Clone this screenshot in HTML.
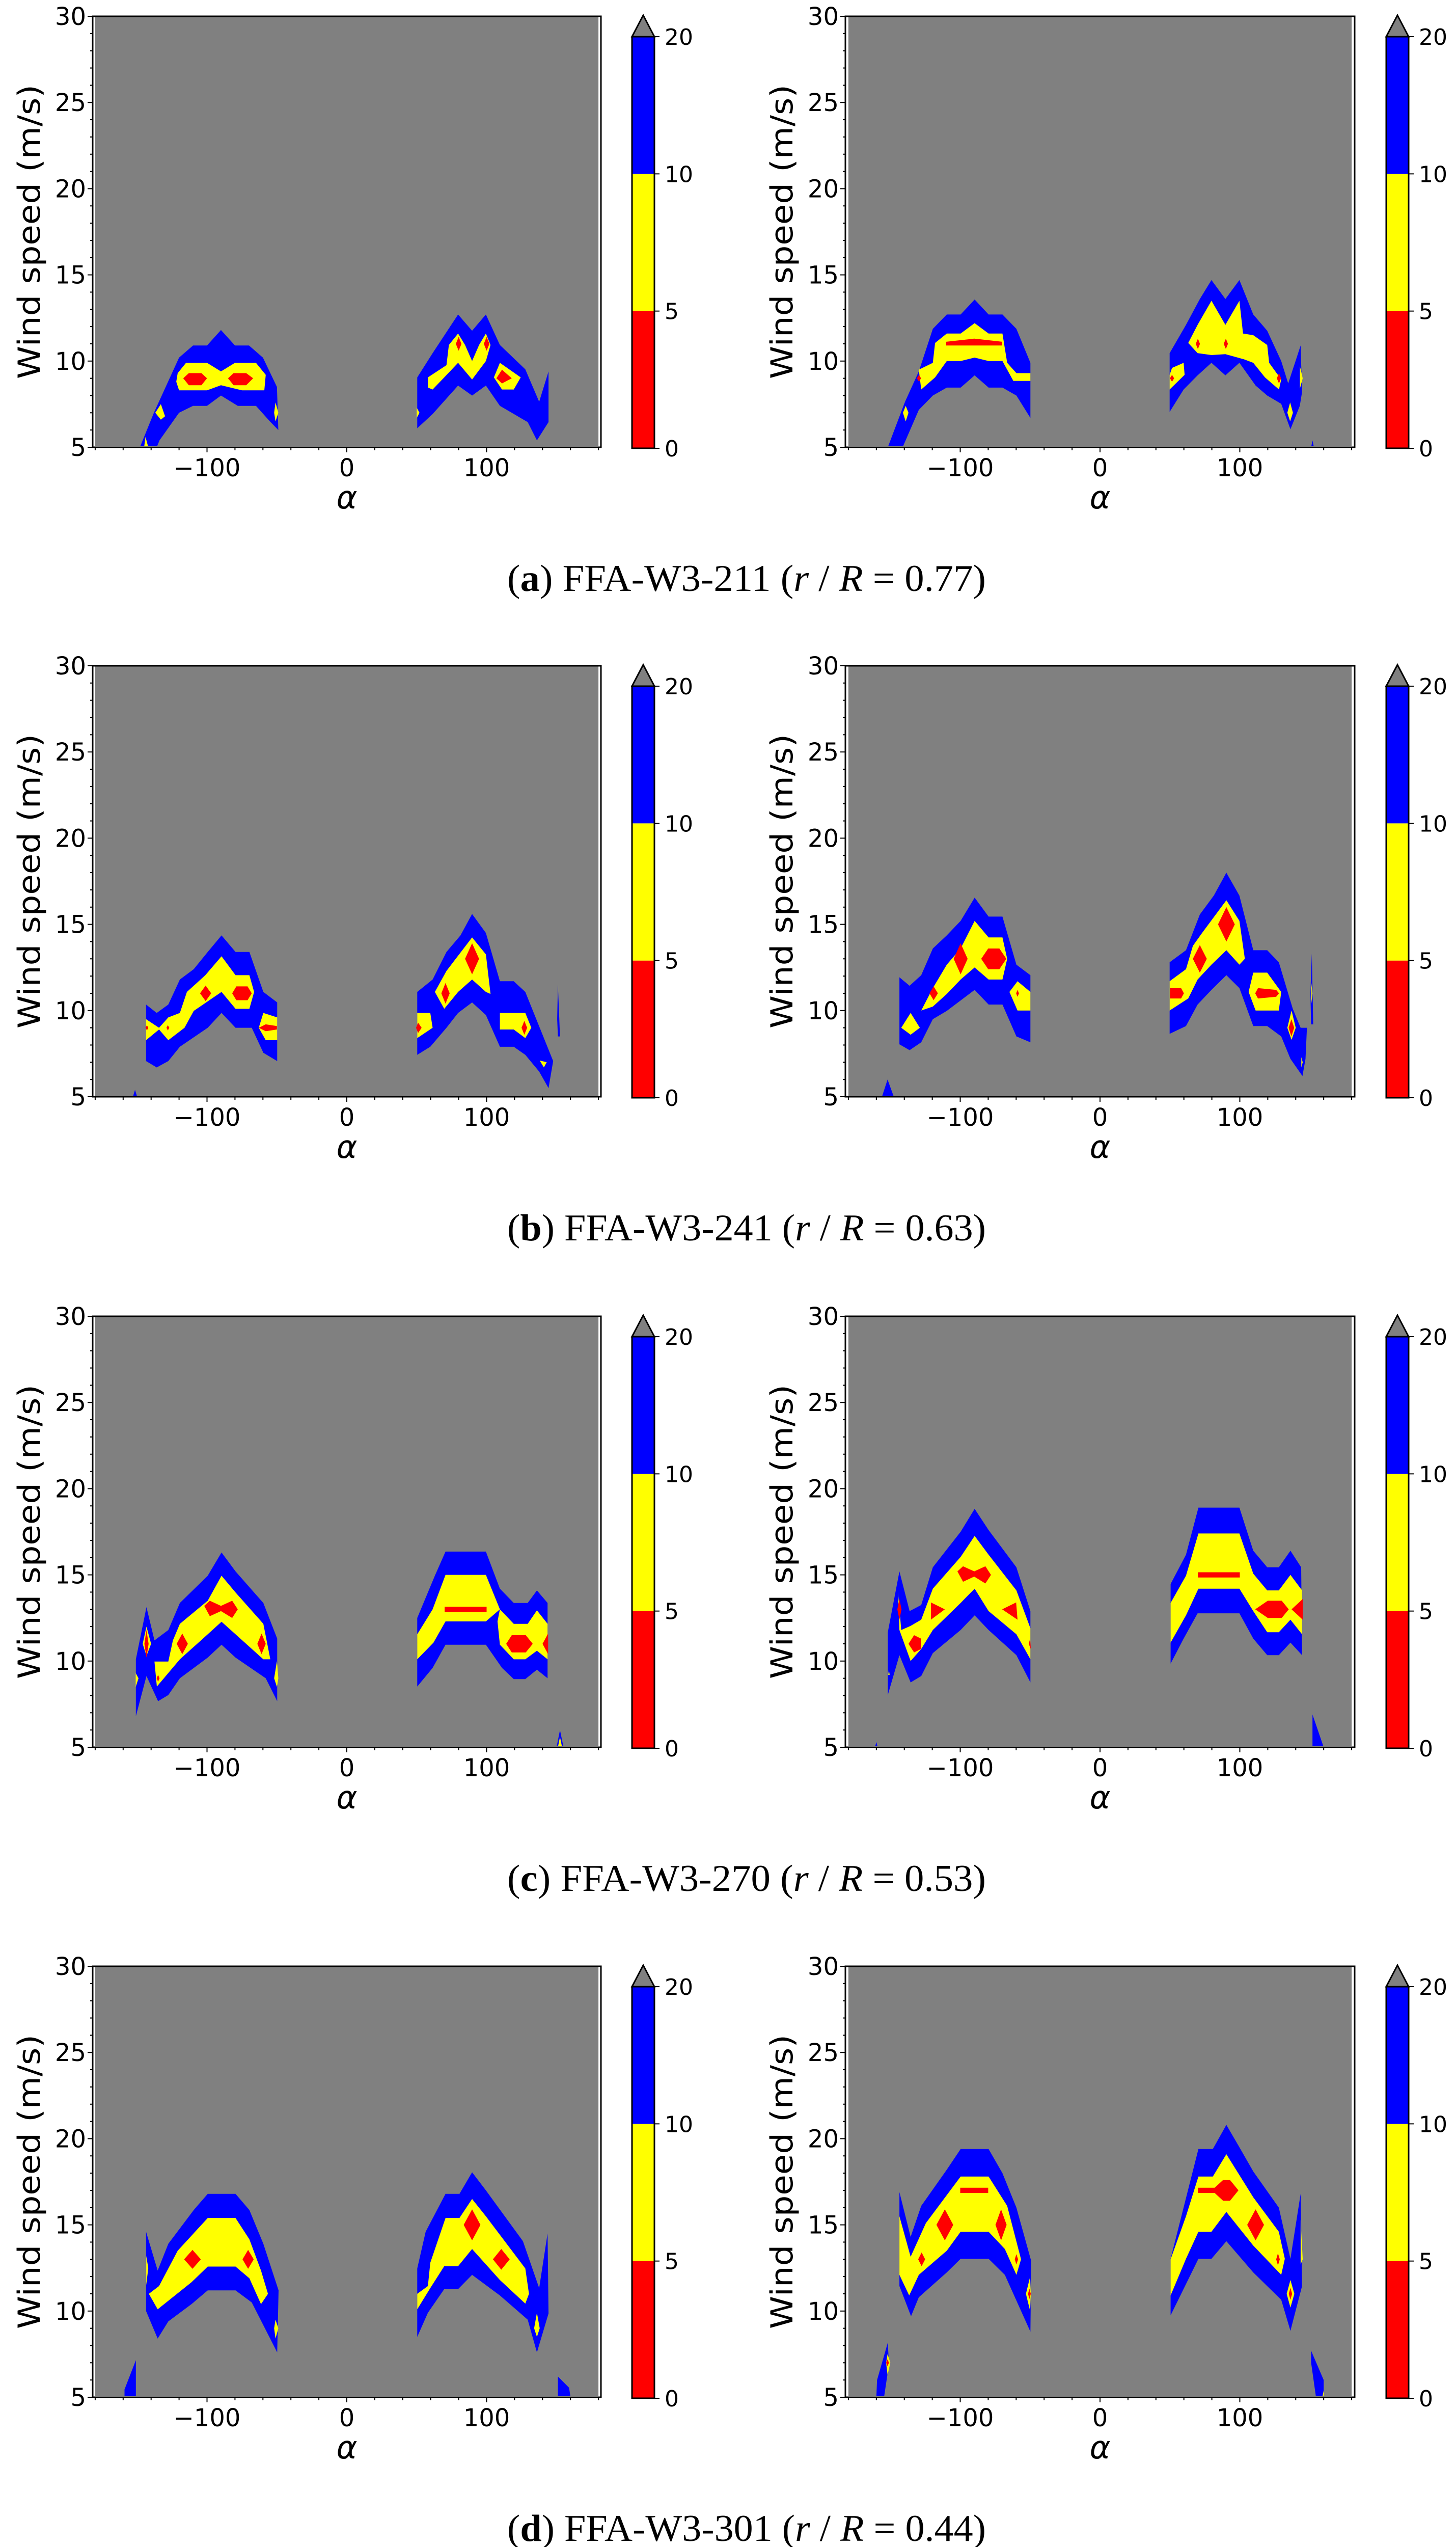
<!DOCTYPE html>
<html><head><meta charset="utf-8">
<style>
html,body{margin:0;padding:0;background:#fff;overflow:hidden;height:5030px;}
svg{display:block;}
</style></head>
<body>
<svg id="fig" xmlns="http://www.w3.org/2000/svg" width="2859" height="5030" viewBox="0 0 2859 5030"></svg>
<script>
// ---- chart data (alpha in degrees, wind speed in m/s) ----
const xTickValues = [-100, 0, 100];
const xTickLabels = ["\u2212100", "0", "100"];
const yTickValues = [5, 10, 15, 20, 25, 30];
const yTickLabels = ["5", "10", "15", "20", "25", "30"];
const cbarLevels = [0, 5, 10, 20];
const cbarLabels = ["0", "5", "10", "20"];
const cbarColors = ["#ff0000", "#ffff00", "#0000ff"];
const captionIds = ["a", "b", "c", "d"];
const captionAirfoils = ["FFA-W3-211", "FFA-W3-241", "FFA-W3-270", "FFA-W3-301"];
const captionRatios = ["0.77", "0.63", "0.53", "0.44"];

// Row a, left
const aL_blue = [
 [[-148,5],[-138,7],[-120,10.2],[-110,10.9],[-100,10.9],[-90,11.8],[-80,10.9],[-70,10.9],[-60,10.2],[-50,8.5],[-49,6],[-55,6.5],[-65,7.4],[-78,7.4],[-90,8],[-100,7.4],[-110,7.4],[-120,7],[-134,5.4],[-136,5]],
 [[50.4,9.05],[61.4,10.46],[79.6,12.7],[89.6,11.76],[99.5,12.7],[109.5,10.93],[127.7,9.52],[137.6,7.64],[144.3,9.4],[144.3,6.46],[136,5.4],[129.4,6.46],[109.5,7.4],[99.5,8.58],[89.6,8.0],[79.6,8.58],[61.4,6.93],[50.4,6.1]]
];
const aL_yellow = [
 [[-122,8.8],[-121,9.3],[-115,9.9],[-100,9.9],[-90,9.4],[-80,9.9],[-65,9.9],[-58,9.2],[-59,8.3],[-75,8.3],[-90,8.6],[-100,8.3],[-120,8.3]],
 [[-137,7],[-133,7.5],[-130,6.8],[-133,6.6]],
 [[-51,7.6],[-49,7],[-51,6.5],[-52,7]],
 [[-145,5],[-144,5.6],[-142,5]],
 [[58,8.46],[58,9.05],[71.3,9.76],[73,10.93],[79.6,11.6],[84.6,10.93],[89.6,10],[94.6,10.93],[99.5,11.6],[102.8,10.93],[99.5,10],[89.6,8.93],[79.6,9.9],[69.7,9.05],[61.4,8.35]],
 [[105.2,9.05],[109.5,9.9],[124.4,9.05],[119.4,8.35],[111,8.35]],
 [[50,7.3],[52,7],[50,6.7]]
];
const aL_red = [
 [[-117,9],[-113,9.3],[-104,9.3],[-100,9],[-104,8.6],[-113,8.6]],
 [[-85,9],[-81,9.3],[-72,9.3],[-67,9],[-72,8.6],[-81,8.6]],
 [[78,11],[80,11.4],[82,11],[80,10.6]],
 [[98,11],[100,11.4],[102,11],[100,10.6]],
 [[107,9],[111,9.5],[118,9],[111,8.7]]
];
// Row a, right
const aR_blue = [
 [[-151.8,5],[-139.5,7.64],[-129.6,9.4],[-119.6,11.87],[-109.6,12.7],[-99.7,12.7],[-89.7,13.57],[-79.7,12.7],[-69.8,12.7],[-59.8,11.87],[-49.8,9.9],[-49.8,6.7],[-59.8,8.0],[-69.8,8.46],[-79.7,8.46],[-89.7,9.17],[-99.7,8.46],[-109.6,8.46],[-119.6,8.0],[-129.6,7.17],[-141.2,5]],
 [[49.8,7.05],[49.8,10.46],[61.5,12.1],[71.4,13.6],[79.7,14.7],[89.7,13.6],[99.7,14.7],[109.6,12.7],[119.6,11.76],[129.6,10],[134.6,8.7],[143.5,10.9],[144.5,8.2],[142.9,7.4],[136.2,6.04],[129.6,7.52],[119.6,8.0],[111.3,8.58],[99.7,9.9],[89.7,9.17],[79.7,9.9],[69.8,9.17],[59.8,8.35]],
 [[151,5],[152,5.4],[153,5]]
];
const aR_yellow = [
 [[-129.6,9.5],[-119.6,9.9],[-118,11.05],[-109.6,11.6],[-99.7,11.6],[-89.7,12.2],[-79.7,11.6],[-69.8,11.6],[-66.4,9.9],[-59.8,9.3],[-49.8,9.3],[-49.8,8.85],[-62,8.85],[-69.8,10],[-79.7,10],[-89.7,10.2],[-99.7,10],[-109.6,10],[-118,9.05],[-127.9,8.35]],
 [[-139,7.4],[-137,7],[-139,6.5],[-141,7]],
 [[63.1,11.05],[69.8,12.1],[79.7,13.5],[89.7,12.1],[99.7,13.5],[102.3,11.6],[109.6,11.5],[119.6,10.93],[121,9.9],[129.6,8.93],[128,8.35],[118,9.05],[109.6,9.9],[103,10.1],[89.7,10.4],[79.7,10.35],[69.8,10.46]],
 [[51.5,9.6],[59.8,9.9],[60.5,9.2],[49.8,8.35],[49.8,9.2]],
 [[136,7.6],[138,7],[136,6.5],[134,7]],
 [[143,9.7],[145,9],[143,8.4]]
];
const aR_red = [
 [[-110,11.12],[-90,11.3],[-70,11.12],[-70,10.9],[-90,10.9],[-110,10.9]],
 [[-131,9],[-129.5,9.2],[-128,9],[-129.5,8.8]],
 [[68.5,11],[70,11.3],[71.5,11],[70,10.7]],
 [[88.5,11],[90,11.3],[91.5,11],[90,10.7]],
 [[126.5,9],[128,9.3],[129.5,9],[128,8.7]],
 [[50,9],[51.5,9.2],[53,9],[51.5,8.8]]
];
// Row b, left
const bL_blue = [
 [[-143.6,10.35],[-136,9.86],[-127.7,10.35],[-119.4,11.8],[-109.5,12.4],[-99.5,13.4],[-89.6,14.36],[-79.6,13.4],[-69.7,13.4],[-59.7,11.08],[-49.8,10.47],[-49.8,7.07],[-59.7,7.55],[-68,9.0],[-79.6,9.0],[-89.6,9.86],[-99.5,9.0],[-119.4,7.9],[-127.7,7.07],[-136,6.7],[-143.6,7.07]],
 [[-153,5],[-151.5,5.4],[-150,5]],
 [[50.4,11.08],[61.4,11.8],[71.3,13.4],[81.3,14.36],[89.6,15.6],[99.5,14.5],[109.5,11.7],[119.4,11.7],[127.7,11.08],[147.6,7.07],[144.3,5.5],[137.6,6.46],[127.7,7.43],[119.4,7.9],[109.5,7.9],[99.5,9.74],[89.6,10.47],[79.6,9.86],[71.3,9.0],[59.7,7.9],[50.4,7.43]],
 [[151,11.5],[152.5,8.5],[151,8.5],[150.5,9.5]]
];
const bL_yellow = [
 [[-143.6,9.5],[-134.3,9.0],[-127.7,9.6],[-119.4,9.86],[-114.4,11.08],[-101.2,12.05],[-89.6,13.15],[-79.6,12.05],[-69.7,12.05],[-66.3,11.08],[-69.7,10.1],[-79.6,10.1],[-89.6,11.08],[-109.5,9.98],[-116.1,9.0],[-127.7,8.28],[-134.3,8.9],[-143.6,8.28]],
 [[-63,9],[-59.7,9.86],[-49.8,9.6],[-49.8,8.28],[-58,8.28]],
 [[63,11.08],[71.3,12.3],[89.6,14.24],[99.5,13.26],[102.8,10.96],[99.5,11.08],[89.6,11.8],[79.6,11.08],[69.7,10.1]],
 [[109.5,9.86],[127.7,9.86],[132,9.0],[127.7,8.4],[119.4,8.9],[109.5,8.9]],
 [[50.4,9.86],[59.7,9.86],[61.4,9.0],[50.4,8.4]],
 [[138,7.1],[143,7],[141,6.7]]
];
const bL_red = [
 [[-105,11],[-101,11.45],[-97,11],[-101,10.55]],
 [[-82,11],[-79,11.4],[-71,11.4],[-68,11],[-71,10.6],[-79,10.6]],
 [[-63,9],[-58,9.2],[-50,9.1],[-50,8.9],[-58,8.8]],
 [[-144,9],[-143,9.15],[-142,9],[-143,8.85]],
 [[-129,9],[-128,9.15],[-127,9],[-128,8.85]],
 [[84.6,13],[89.6,13.9],[94.6,13],[89.6,12.1]],
 [[67.6,11],[70.6,11.6],[73.6,11],[70.6,10.4]],
 [[49.5,9],[51,9.3],[53.5,9],[51,8.7]],
 [[125,9],[127,9.4],[129,9],[127,8.6]]
];
// Row b, right
const bR_blue = [
 [[-143.5,11.93],[-136.2,11.44],[-127.9,12.05],[-119.6,13.6],[-109.6,14.36],[-99.7,15.2],[-89.7,16.55],[-79.7,15.45],[-69.8,15.45],[-59.8,12.66],[-49.8,12.05],[-49.8,8.16],[-59.8,8.5],[-69.8,10.35],[-79.7,10.35],[-89.7,11.2],[-109.6,9.98],[-119.6,9.5],[-127.9,8.16],[-136.2,7.7],[-143.5,8.04]],
 [[-156,5],[-152,6],[-147.5,5]],
 [[49.8,12.8],[61.5,13.5],[71.4,15.57],[81.4,16.67],[90.4,18.0],[99.7,16.67],[109.6,13.5],[119.6,13.5],[127.9,12.8],[137.9,10.1],[143.5,9.0],[148,9],[147,7.2],[144.8,6.2],[136.2,7.2],[129.6,8.5],[119.6,9.1],[109.6,9.1],[99.7,11.3],[90.4,12.05],[79.7,11.2],[69.8,10.35],[61.5,9.1],[49.8,8.65]],
 [[151.5,13.3],[152.5,9.2],[151,9.2],[150.5,11]]
];
const bR_yellow = [
 [[-127.9,10],[-119.6,11.3],[-109.6,12.66],[-99.7,13.6],[-89.7,15.2],[-79.7,14.24],[-69.8,14.24],[-66.4,13],[-69.8,11.8],[-79.7,11.8],[-89.7,12.5],[-99.7,11.8],[-109.6,10.96],[-119.6,10.23]],
 [[-64.8,11.08],[-59,11.7],[-49.8,11.08],[-49.8,10],[-59,10]],
 [[-142.2,9.0],[-135.5,9.86],[-128.9,9.0],[-135.5,8.6]],
 [[49.8,11.7],[61.5,12.4],[66.4,13.75],[73,14.5],[90.4,16.4],[99.7,15.2],[103.6,13.0],[99.7,12.66],[90.4,13.5],[79.7,12.66],[69.8,11.8],[63.1,10.7],[49.8,10]],
 [[106.3,11.08],[109.6,12.2],[119.6,12.2],[129.6,11.08],[127.9,10],[111.3,10]],
 [[137,10],[140,9],[137,8.3],[134,9]],
 [[151.2,11.6],[152,11],[151.2,10.4]],
 [[144,7.3],[145,7],[144,6.7]]
];
const bR_red = [
 [[-104.7,13],[-99.7,13.9],[-94.7,13],[-99.7,12.1]],
 [[-85,13],[-80,13.6],[-72,13.6],[-67,13],[-72,12.4],[-80,12.4]],
 [[-122,11],[-119,11.4],[-116,11],[-119,10.6]],
 [[-60,11],[-59,11.2],[-58,11],[-59,10.8]],
 [[84.4,15],[90.4,16],[96.4,15],[90.4,14]],
 [[66.4,13],[71.4,13.8],[76.4,13],[71.4,12.2]],
 [[111,11],[113,11.3],[126,11.2],[128,11],[126,10.8],[113,10.7]],
 [[50,11.3],[58,11.3],[60,11],[58,10.7],[50,10.7]],
 [[134.9,9],[136.9,9.5],[138.9,9],[136.9,8.5]]
];
// Row c, left
const cL_blue = [
 [[-150.9,6.8],[-150.9,10.1],[-143.3,13.13],[-137.6,11.2],[-127.7,11.8],[-119.4,13.37],[-99.5,14.95],[-89.6,16.3],[-79.6,15.2],[-59.7,13.37],[-49.8,11.3],[-49.8,7.67],[-58,9.0],[-79.6,10.2],[-89.6,10.95],[-99.5,10.2],[-119.4,9.0],[-127.7,8.03],[-135,7.67],[-143.3,9.13]],
 [[50.4,8.52],[50.4,12.5],[63,14.95],[70.6,16.35],[99.5,16.35],[109.5,14.2],[119.4,13.37],[129.4,13.37],[136,14.1],[143.6,13.37],[143.6,9.0],[136,9.5],[127.7,8.95],[119.4,8.95],[111,9.6],[99.5,10.95],[70.6,10.95],[61.4,9.6]],
 [[150,5],[152.5,6],[155,5]]
];
const cL_yellow = [
 [[-137.6,9.97],[-127.7,9.97],[-124.4,11.2],[-119.4,12.16],[-99.5,13.5],[-89.6,14.95],[-79.6,13.98],[-59.7,12.16],[-54.7,10.1],[-59.7,10.1],[-79.6,11.55],[-89.6,12.28],[-99.5,11.55],[-119.4,10.1],[-135.9,8.52]],
 [[-143.3,12.0],[-140,11],[-143.3,10.3],[-146,11]],
 [[-50,10],[-52,9],[-50,8.5],[-49,9]],
 [[-151,9.3],[-149,9],[-151,8.5]],
 [[61.4,13.0],[70.6,15.0],[99.5,15.0],[109.5,13.0],[99.5,12.3],[70.6,12.3],[62,11.07],[50.4,10.1],[50.4,11.55]],
 [[107.8,12.3],[109.5,13],[119.4,12.16],[129.4,12.16],[136,12.94],[143.6,12.16],[143.6,10.1],[136,10.6],[127.7,10.1],[119.4,10.1],[109.5,10.95]],
 [[151,5],[152.5,5.6],[154,5]]
];
const cL_red = [
 [[-144.8,11],[-143.3,11.8],[-141.8,11],[-143.3,10.2]],
 [[-121.7,11],[-117.7,11.6],[-113.7,11],[-117.7,10.4]],
 [[-102,13.2],[-98,13.5],[-90,13.2],[-82,13.5],[-78,13],[-82,12.5],[-90,12.9],[-98,12.6]],
 [[-64,11],[-61,11.6],[-58,11],[-61,10.4]],
 [[-136,9],[-135,9.2],[-134,9],[-135,8.8]],
 [[70,13.15],[100,13.15],[100,12.85],[70,12.85]],
 [[114,11],[118,11.5],[128,11.5],[133,11],[128,10.5],[118,10.5]],
 [[140,11],[144,11.6],[144,10.4]]
];
// Row c, right
const cR_blue = [
 [[-151.8,8.03],[-151.8,11.67],[-143.5,15.2],[-136.2,12.9],[-127.9,13.25],[-119.6,15.44],[-99.7,17.5],[-89.7,18.83],[-79.7,17.6],[-59.8,15.44],[-49.8,12.9],[-49.8,8.76],[-59.8,10.34],[-79.7,11.8],[-89.7,12.65],[-99.7,11.8],[-119.6,10.46],[-127.9,9.13],[-135.5,8.76],[-143.5,10.34]],
 [[50.5,9.85],[50.5,14.47],[61.5,16.17],[70.4,18.9],[99.7,18.9],[109.6,16.4],[119.6,15.44],[127.9,15.44],[136.2,16.4],[143.9,15.44],[144.5,10.34],[136.2,11.07],[127.9,10.34],[119.6,10.34],[109.6,11.3],[99.7,12.77],[69.8,12.77],[59.8,11.3]],
 [[152,6.9],[160,5],[152,5]],
 [[-161,5],[-160,5.3],[-159,5]]
];
const cR_yellow = [
 [[-144.5,14],[-142.2,11.8],[-135.5,12.04],[-127.9,12.4],[-119.6,14.2],[-99.7,16.04],[-89.7,17.26],[-79.7,16.17],[-59.8,14.1],[-49.8,11.9],[-49.8,10.1],[-59.8,11.55],[-79.7,12.9],[-89.7,14.2],[-99.7,13.37],[-119.6,11.8],[-127.9,10.7],[-135.5,10],[-143.5,11.8]],
 [[50.5,11.07],[50.5,13.37],[61.5,14.95],[70.4,17.4],[99.7,17.4],[109.6,15.07],[119.6,14.1],[127.9,14.1],[136.2,15.0],[144.5,14.1],[144.5,11.55],[136.2,12.4],[127.9,11.67],[119.6,11.67],[109.6,12.9],[99.7,14.2],[70.4,14.2],[61.5,12.65]],
 [[-151.5,9.2],[-151,9.5],[-150.5,9.2]]
];
const cR_red = [
 [[-145,13],[-143.5,13.6],[-142,13],[-143.5,12.4]],
 [[-137,11],[-133,11.5],[-128,11.3],[-128,10.7],[-133,10.5]],
 [[-121,13.4],[-111,13],[-121,12.4]],
 [[-102,15.2],[-98,15.5],[-90,15.2],[-82,15.5],[-78,15],[-82,14.5],[-90,14.9],[-98,14.6]],
 [[-70,13],[-60,13.4],[-59,12.4]],
 [[-51,11],[-50,11.3],[-49.5,10.7]],
 [[70,15.15],[100,15.15],[100,14.85],[70,14.85]],
 [[111,13],[120,13.5],[130,13.5],[135,13],[130,12.5],[120,12.5]],
 [[137,13],[145,13.6],[145,12.4]]
];
// Row d, left
const dL_blue = [
 [[-143.6,14.6],[-143.6,10.0],[-135.3,8.4],[-127.7,9.4],[-111.1,10.4],[-99.5,11.2],[-79.6,11.2],[-68,10.5],[-49.8,7.6],[-48.8,11.2],[-59.7,13.9],[-69.7,15.86],[-79.6,16.8],[-99.5,16.8],[-109.5,15.86],[-127.7,13.9],[-135.3,12.35]],
 [[-159,5],[-159,5.45],[-150.9,7.15],[-150.9,5]],
 [[151,5],[151,6.2],[159,5.55],[160,5]],
 [[50.4,8.5],[50.4,12.47],[56.4,14.6],[70.6,16.8],[80.6,16.8],[89.6,18.05],[99.5,17.0],[126,14.05],[137.6,11.33],[143.6,14.5],[144.3,9.86],[136,7.6],[129.4,9.5],[109.5,10.9],[89.6,12.1],[79.6,11.27],[69.7,11.27],[58,9.9]]
];
const dL_yellow = [
 [[-141.6,11],[-135.3,10.1],[-111.1,11.67],[-99.5,12.58],[-79.6,12.58],[-69.7,11.9],[-61.4,10.4],[-56.4,11],[-61.4,12.35],[-69.7,14.16],[-79.6,15.4],[-99.5,15.4],[-121,13.5],[-134.3,11.45]],
 [[-51,9.5],[-49,9],[-51,8.4],[-52,9]],
 [[-143.5,13.2],[-142,12.5],[-143.5,11.5]],
 [[50.4,11],[58,11.45],[59.7,12.8],[70.6,15.4],[80.6,15.4],[89.6,16.5],[99.5,15.5],[127.7,12.47],[130.3,11],[127.7,10.43],[109.5,11.8],[89.6,13.6],[79.6,12.6],[69.7,12.6],[59.7,11.33],[50.4,10.1]],
 [[136,9.9],[138,9],[136,8.5],[134,9]]
];
const dL_red = [
 [[-116.4,13],[-110.4,13.55],[-104.4,13],[-110.4,12.45]],
 [[-74.6,13],[-70.6,13.55],[-66.6,13],[-70.6,12.45]],
 [[83.6,15],[89.6,15.9],[95.6,15],[89.6,14.1]],
 [[104.5,13],[110.5,13.6],[116.5,13],[110.5,12.4]]
];
// Row d, right
const dR_blue = [
 [[-143.5,16.9],[-143.5,11.45],[-135.2,9.7],[-129.6,10.8],[-109.6,12.24],[-99.7,13.03],[-79.7,13.03],[-68.1,12.1],[-49.8,8.8],[-49.2,12.9],[-59.8,16],[-69.8,18],[-79.7,19.4],[-99.7,19.4],[-109.6,18.2],[-127.9,16.1],[-135.5,14.3]],
 [[-160,5],[-159.5,6],[-151.8,8.17],[-151,6.9],[-154.5,5]],
 [[151,7.7],[160,6],[160,5],[154.5,5],[151,7]],
 [[50.5,9.75],[50.5,13.03],[70.4,19.4],[80.7,19.4],[90.4,20.8],[99.7,19.5],[109.6,18.1],[127.9,16],[136.2,13.03],[143.5,16.8],[144.5,11.45],[136.2,8.85],[129.6,10.65],[109.6,12.24],[90.4,14.05],[79.7,13.03],[70.4,13.03]]
];
const dR_yellow = [
 [[-143.5,15.5],[-143.5,12.1],[-136.5,10.9],[-129.6,12.1],[-109.6,13.5],[-99.7,14.6],[-79.7,14.6],[-68.1,13.6],[-59.8,12.1],[-56.5,13.0],[-66.4,16.1],[-79.7,17.8],[-99.7,17.8],[-124.6,15.1],[-135.5,13.15]],
 [[-50,12],[-53,11],[-50,10],[-49.5,11]],
 [[-152,7.5],[-150,7],[-152,6.3],[-153,7]],
 [[50.5,10.9],[50.5,13.0],[61.5,15.5],[70.4,17.8],[80.7,17.8],[90.4,19.1],[109.6,16.6],[127.9,14.6],[132.2,13.03],[129.6,12.1],[109.6,13.8],[90.4,15.75],[79.7,14.6],[70.4,14.6],[61.5,13.03]],
 [[136.2,11.8],[139,11],[136.2,10.2],[133.5,11]],
 [[143.5,15.3],[145,13],[143.5,12.7]],
 [[159,5],[160,5.4],[160,5]]
];
const dR_red = [
 [[-100,17.15],[-80,17.15],[-80,16.85],[-100,16.85]],
 [[-117,15],[-111,15.9],[-105,15],[-111,14.1]],
 [[-74.8,15],[-70.8,15.9],[-66.8,15],[-70.8,14.1]],
 [[-130.1,13],[-127.6,13.4],[-125.1,13],[-127.6,12.6]],
 [[-61,13],[-59.8,13.3],[-58.6,13],[-59.8,12.7]],
 [[-51.5,11],[-50.5,11.3],[-49.5,11],[-50.5,10.7]],
 [[-153,7],[-152,7.2],[-151,7],[-152,6.8]],
 [[70,17.15],[83,17.15],[83,16.85],[70,16.85]],
 [[80,17],[88,17.6],[93,17.6],[99,17],[93,16.4],[88,16.4]],
 [[105.3,15],[111.3,15.9],[117.3,15],[111.3,14.1]],
 [[126,13],[127.3,13.35],[128.6,13],[127.3,12.65]],
 [[135,11],[136.2,11.35],[137.4,11],[136.2,10.65]]
];

// ---- layout ----
const NS = "http://www.w3.org/2000/svg";
const svg = document.getElementById("fig");
const rowTops = [32, 1307, 2584, 3860];
const PLOT_H = 846;
const colGeom = [
  {frameL: 182, frameR: 1180, cx: 681, cbL: 1241, cbR: 1285},
  {frameL: 1660, frameR: 2660, cx: 2160, cbL: 2722, cbR: 2766}
];
const PXDEG = 2.745;
const panelData = [
  [[aL_blue, aL_yellow, aL_red], [aR_blue, aR_yellow, aR_red]],
  [[bL_blue, bL_yellow, bL_red], [bR_blue, bR_yellow, bR_red]],
  [[cL_blue, cL_yellow, cL_red], [cR_blue, cR_yellow, cR_red]],
  [[dL_blue, dL_yellow, dL_red], [dR_blue, dR_yellow, dR_red]]
];

function mk(tag, attrs, parent) {
  const e = document.createElementNS(NS, tag);
  for (const k in attrs) e.setAttribute(k, attrs[k]);
  (parent || svg).appendChild(e);
  return e;
}

rowTops.forEach((top, r) => {
  const bottom = top + PLOT_H;
  colGeom.forEach((g, c) => {
    const sx = a => g.cx + a * PXDEG;
    const sy = w => top + (30 - w) * (PLOT_H / 25);
    const grp = mk("g", {});
    
    

    const clipId = "clip" + r + "_" + c;
    const defs = mk("defs", {}, grp);
    const cp = mk("clipPath", {id: clipId}, defs);
    mk("rect", {x: sx(-180), y: top + 1, width: sx(180) - sx(-180), height: PLOT_H - 3}, cp);

    const bg = mk("rect", {x: sx(-180), y: top + 1, width: sx(180) - sx(-180), height: PLOT_H - 3, fill: "#808080"}, grp);
    
    

    const body = mk("g", {"clip-path": "url(#" + clipId + ")"}, grp);
    const layerNames = ["region-10-20", "region-5-10", "region-0-5"];
    const layerColors = [cbarColors[2], cbarColors[1], cbarColors[0]];
    panelData[r][c].forEach((polys, li) => {
      polys.forEach(poly => {
        const pts = poly.map(p => sx(p[0]).toFixed(1) + "," + sy(p[1]).toFixed(1)).join(" ");
        const pg = mk("polygon", {points: pts, fill: layerColors[li]}, body);
        
        
      });
    });

    const fr = mk("rect", {x: g.frameL, y: top, width: g.frameR - g.frameL, height: PLOT_H, fill: "none", stroke: "#000", "stroke-width": 3}, grp);
    
    

    for (let a = -180; a <= 180; a += 20) {
      const major = xTickValues.indexOf(a) >= 0;
      mk("line", {x1: sx(a), x2: sx(a), y1: bottom, y2: bottom + (major ? 10 : 6), stroke: "#000", "stroke-width": 2}, grp);
    }
    xTickValues.forEach((v, i) => {
      const t = mk("text", {x: sx(v), y: bottom + 57, "text-anchor": "middle", "font-family": "DejaVu Sans, sans-serif", "font-size": 48}, grp);
      t.textContent = xTickLabels[i];
      
      
    });
    for (let w = 5; w <= 30; w += 1) {
      const major = yTickValues.indexOf(w) >= 0;
      mk("line", {x1: g.frameL, x2: g.frameL - (major ? 10 : 5), y1: sy(w), y2: sy(w), stroke: "#000", "stroke-width": 2}, grp);
    }
    yTickValues.forEach((v, i) => {
      const t = mk("text", {x: g.frameL - 13, y: sy(v) + 17, "text-anchor": "end", "font-family": "DejaVu Sans, sans-serif", "font-size": 48}, grp);
      t.textContent = yTickLabels[i];
      
      
    });
    const yl = mk("text", {x: 0, y: 0, transform: "translate(" + (g.frameL - 104) + "," + ((top + bottom) / 2) + ") rotate(-90)", "text-anchor": "middle", "font-family": "DejaVu Sans, sans-serif", "font-size": 60, textLength: 578, lengthAdjust: "spacingAndGlyphs"}, grp);
    yl.textContent = "Wind speed (m/s)";
    
    
    const xl = mk("text", {x: sx(0), y: bottom + 120, "text-anchor": "middle", "font-family": "DejaVu Sans, sans-serif", "font-style": "italic", "font-size": 62}, grp);
    xl.textContent = "\u03b1";
    
    

    const cbg = mk("g", {}, grp);
    
    
    const cTop = top + 40, cBot = top + PLOT_H + 2;
    const nSeg = cbarLevels.length - 1;
    const segH = (cBot - cTop) / nSeg;
    for (let i = 0; i < nSeg; i++) {
      const seg = mk("rect", {x: g.cbL, y: cBot - (i + 1) * segH, width: g.cbR - g.cbL, height: segH, fill: cbarColors[i]}, cbg);
      
      
    }
    const tri = mk("polygon", {points: g.cbL + "," + cTop + " " + ((g.cbL + g.cbR) / 2) + "," + (top - 2) + " " + g.cbR + "," + cTop, fill: "#808080", stroke: "#000", "stroke-width": 3}, cbg);
    
    
    mk("rect", {x: g.cbL, y: cTop, width: g.cbR - g.cbL, height: cBot - cTop, fill: "none", stroke: "#000", "stroke-width": 3}, cbg);
    cbarLevels.forEach((lv, i) => {
      const y = cBot - i * segH;
      mk("line", {x1: g.cbR, x2: g.cbR + 10, y1: y, y2: y, stroke: "#000", "stroke-width": 2}, cbg);
      const t = mk("text", {x: g.cbR + 20, y: y + 16, "font-family": "DejaVu Sans, sans-serif", "font-size": 44}, cbg);
      t.textContent = cbarLabels[i];
      
      
    });
  });

  const cap = mk("text", {x: 1466, y: top + 1128, "text-anchor": "middle", "font-family": "Liberation Serif, serif", "font-size": 74, textLength: 940, lengthAdjust: "spacingAndGlyphs"});
  
  
  const parts = [
    ["(", ""], [captionIds[r], "bold"], [") " + captionAirfoils[r] + " (", ""], ["r", "italic"], [" / ", ""], ["R", "italic"], [" = " + captionRatios[r] + ")", ""]
  ];
  parts.forEach(p => {
    const ts = document.createElementNS(NS, "tspan");
    if (p[1] === "bold") ts.setAttribute("font-weight", "bold");
    if (p[1] === "italic") ts.setAttribute("font-style", "italic");
    ts.textContent = p[0];
    cap.appendChild(ts);
  });
});
</script>
</body></html>
